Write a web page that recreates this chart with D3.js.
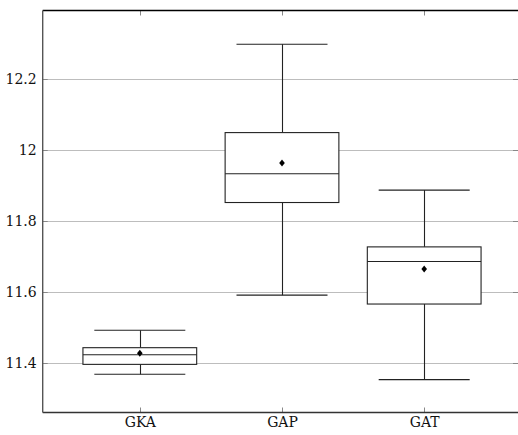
<!DOCTYPE html>
<html>
<head>
<meta charset="utf-8">
<script src="https://cdn.jsdelivr.net/npm/d3@7"></script>
<style>
html,body{margin:0;padding:0;background:#fff;}
svg{display:block;}
svg text{font-family:"DejaVu Serif","Liberation Serif",serif !important;}
</style>
</head>
<body>
<svg id="chart" width="518" height="435"></svg>
<script>
const categories = ["GKA", "GAP", "GAT"];
const lowerWhisker = [11.369, 11.592, 11.354];
const lowerQuartile = [11.397, 11.853, 11.567];
const median = [11.424, 11.934, 11.687];
const upperQuartile = [11.444, 12.050, 11.728];
const upperWhisker = [11.493, 12.299, 11.888];
const mean = [11.428, 11.964, 11.666];
const yTicks = [11.4, 11.6, 11.8, 12, 12.2];

(function () {
const svg = d3.select("#chart");
const pLeft = 42.7, pRight = 521.3, pTop = 10.5, pBottom = 412.5;

const x = d3.scaleLinear().domain([0.317, 3.683]).range([pLeft, pRight]);
const y = d3.scaleLinear().domain([11.2614, 12.394]).range([pBottom, pTop]);

const boxHalf = 0.4, capHalf = 0.32;
const fontSpec = "'DejaVu Serif', 'Liberation Serif', serif";

// grid
svg.append("g").selectAll("line").data(yTicks).join("line")
  .attr("x1", pLeft).attr("x2", pRight)
  .attr("y1", d => Math.round(y(d)) + 0.5).attr("y2", d => Math.round(y(d)) + 0.5)
  .attr("stroke", "#bdbdbd").attr("stroke-width", 1);

// y axis
const yAxis = d3.axisLeft(y).tickValues(yTicks).tickSize(0).tickPadding(6)
  .tickFormat(d => d3.format("")(d));
const gy = svg.append("g").attr("transform", `translate(${pLeft},0)`).call(yAxis)
  .attr("font-family", fontSpec).attr("font-size", 14);
gy.select(".domain").remove();
gy.selectAll("text").style("font-family", fontSpec).style("font-size", "14px").attr("fill", "#111");

// x axis
const xAxis = d3.axisBottom(x).tickValues([1, 2, 3]).tickSize(0).tickPadding(5)
  .tickFormat((d, i) => categories[i]);
const gx = svg.append("g").attr("transform", `translate(0,${pBottom})`).call(xAxis)
  .attr("font-family", fontSpec).attr("font-size", 14);
gx.select(".domain").remove();
gx.selectAll("text").style("font-family", fontSpec).style("font-size", "14px").attr("fill", "#111");

// inward ticks
const tk = svg.append("g").attr("stroke", "#888").attr("stroke-width", 1);
[1, 2, 3].forEach(c => {
  const xx = Math.round(x(c)) + 0.5;
  tk.append("line").attr("x1", xx).attr("x2", xx).attr("y1", pTop).attr("y2", pTop + 5);
  tk.append("line").attr("x1", xx).attr("x2", xx).attr("y1", pBottom - 5).attr("y2", pBottom);
});
yTicks.forEach(v => {
  const yy = Math.round(y(v)) + 0.5;
  tk.append("line").attr("x1", pLeft).attr("x2", pLeft + 5).attr("y1", yy).attr("y2", yy);
  tk.append("line").attr("x1", 513).attr("x2", 518).attr("y1", yy).attr("y2", yy);
});

// boxes
const boxes = svg.append("g").attr("stroke", "#222").attr("stroke-width", 1.1).attr("fill", "none");
categories.forEach((c, i) => {
  const cx = i + 1;
  const px = Math.round(x(cx)) + 0.5;
  boxes.append("line").attr("x1", px).attr("x2", px).attr("y1", y(upperWhisker[i])).attr("y2", y(upperQuartile[i]));
  boxes.append("line").attr("x1", px).attr("x2", px).attr("y1", y(lowerQuartile[i])).attr("y2", y(lowerWhisker[i]));
  boxes.append("line").attr("x1", x(cx - capHalf)).attr("x2", x(cx + capHalf)).attr("y1", y(upperWhisker[i])).attr("y2", y(upperWhisker[i]));
  boxes.append("line").attr("x1", x(cx - capHalf)).attr("x2", x(cx + capHalf)).attr("y1", y(lowerWhisker[i])).attr("y2", y(lowerWhisker[i]));
  boxes.append("rect").attr("x", x(cx - boxHalf)).attr("y", y(upperQuartile[i]))
    .attr("width", x(cx + boxHalf) - x(cx - boxHalf))
    .attr("height", y(lowerQuartile[i]) - y(upperQuartile[i]))
    .attr("fill", "#fff");
  boxes.append("line").attr("x1", x(cx - boxHalf)).attr("x2", x(cx + boxHalf)).attr("y1", y(median[i])).attr("y2", y(median[i]));
});

// mean markers (diamond)
svg.append("g").selectAll("path").data(mean).join("path")
  .attr("d", (d, i) => {
    const px = x(i + 1), py = y(d);
    return `M${px},${py - 3.5}L${px + 2.8},${py}L${px},${py + 3.5}L${px - 2.8},${py}Z`;
  })
  .attr("fill", "#000");

// frame (right edge lies outside the visible area)
const fr = svg.append("g");
fr.append("line").attr("x1", pLeft).attr("x2", 518).attr("y1", pTop).attr("y2", pTop).attr("stroke", "#000").attr("stroke-width", 1.3);
fr.append("line").attr("x1", pLeft).attr("x2", 518).attr("y1", pBottom).attr("y2", pBottom).attr("stroke", "#333").attr("stroke-width", 1.3);
fr.append("line").attr("x1", pLeft).attr("x2", pLeft).attr("y1", pTop).attr("y2", pBottom).attr("stroke", "#555").attr("stroke-width", 1.4);
})();
</script>
</body>
</html>
